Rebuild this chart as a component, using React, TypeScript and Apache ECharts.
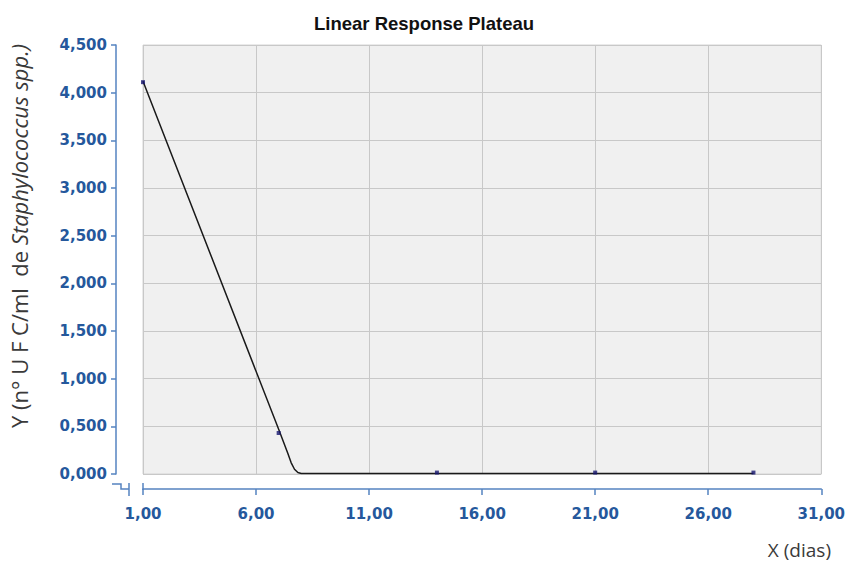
import React, { useEffect, useRef } from "react";
import * as echarts from "echarts";

const title = "Linear Response Plateau";
const xTicks = [1, 6, 11, 16, 21, 26, 31];
const yMax = 4.5;
const yStep = 0.5;
// observed points (day, value)
const obsDays = [1, 7, 14, 21, 28];
const obsValues = [4.11, 0.43, 0.015, 0.015, 0.015];
// fitted linear-response-plateau curve
const fitDays = [1, 7, 7.4, 7.55, 7.7, 7.85, 8.0, 28];
const fitValues = [4.12, 0.47, 0.22, 0.12, 0.05, 0.015, 0.005, 0.005];

const labelColor = "#25589c";
const axisColor = "#5583c0";

export default function App() {
  const ref = useRef<HTMLDivElement>(null);
  useEffect(() => {
    if (!ref.current) return;
    const chart = echarts.init(ref.current, undefined, { renderer: "svg" });
    chart.setOption({
      animation: false,
      backgroundColor: "#ffffff",
      title: {
        text: title,
        left: "center",
        top: 9,
        textStyle: { fontFamily: "Liberation Sans", fontWeight: "bold", fontSize: 18.5, color: "#111" },
      },
      grid: {
        left: 143,
        right: 26,
        top: 45,
        bottom: 92,
        show: true,
        backgroundColor: "#f0f0f0",
        borderColor: "#d4d4d4",
        borderWidth: 1,
      },
      xAxis: {
        type: "value",
        min: xTicks[0],
        max: xTicks[xTicks.length - 1],
        interval: 5,
        offset: 15,
        axisLine: { show: true, onZero: false, lineStyle: { color: axisColor, width: 1.5 } },
        axisTick: { show: true, length: 6, lineStyle: { color: axisColor, width: 1.5 } },
        axisLabel: {
          margin: 17,
          color: labelColor,
          fontFamily: "DejaVu Sans",
          fontWeight: "bold",
          fontSize: 15,
          formatter: (v: number) => v.toFixed(2).replace(".", ","),
        },
        splitLine: { show: true, lineStyle: { color: "#c8c8c8", width: 1 } },
      },
      yAxis: {
        type: "value",
        min: 0,
        max: yMax,
        interval: yStep,
        offset: 27,
        axisLine: { show: true, onZero: false, lineStyle: { color: axisColor, width: 1.5 } },
        axisTick: { show: true, length: 5, lineStyle: { color: axisColor, width: 1.5 } },
        axisLabel: {
          margin: 9,
          color: labelColor,
          fontFamily: "DejaVu Sans",
          fontWeight: "bold",
          fontSize: 15,
          formatter: (v: number) => v.toFixed(3).replace(".", ","),
        },
        splitLine: { show: true, lineStyle: { color: "#c8c8c8", width: 1 } },
      },
      graphic: [
        {
          type: "text",
          x: 19,
          y: 236,
          rotation: Math.PI / 2,
          style: {
            text: "{n|Y (n° U F C/ml  de }{i|Staphylococcus spp.)}",
            align: "center",
            verticalAlign: "middle",
            rich: {
              n: { fontFamily: "Open Sans", fontSize: 22, fill: "#3a3a3a", color: "#3a3a3a" },
              i: { fontFamily: "Open Sans", fontSize: 22, fontStyle: "italic", fill: "#3a3a3a", color: "#3a3a3a" },
            },
          },
          silent: true,
        },
        {
          type: "polyline",
          shape: { points: [[112, 484], [121, 484], [121, 489], [129, 489]] },
          style: { stroke: axisColor, lineWidth: 1.5, fill: "none" },
          silent: true,
        },
        {
          type: "line",
          shape: { x1: 129, y1: 483, x2: 129, y2: 496 },
          style: { stroke: axisColor, lineWidth: 1.5 },
          silent: true,
        },
        {
          type: "line",
          shape: { x1: 143, y1: 483, x2: 143, y2: 490 },
          style: { stroke: axisColor, lineWidth: 1.5 },
          silent: true,
        },
        {
          type: "text",
          right: 848 - 831,
          top: 540,
          style: { text: "X (dias)", fontFamily: "Open Sans", fontSize: 19, fill: "#3a3a3a" },
          silent: true,
        },
      ],
      series: [
        {
          type: "line",
          data: fitDays.map((d, i) => [d, fitValues[i]]),
          showSymbol: false,
          symbol: "none",
          lineStyle: { color: "#1a1a1a", width: 1.5 },
          silent: true,
          z: 2,
        },
        {
          type: "scatter",
          data: obsDays.map((d, i) => [d, obsValues[i]]),
          symbol: "rect",
          symbolSize: 4,
          itemStyle: { color: "#15156e" },
          silent: true,
          z: 3,
        },
      ],
    });
    return () => chart.dispose();
  }, []);
  return <div ref={ref} style={{ position: "absolute", left: 0, top: 0, width: 848, height: 566 }} />;
}
